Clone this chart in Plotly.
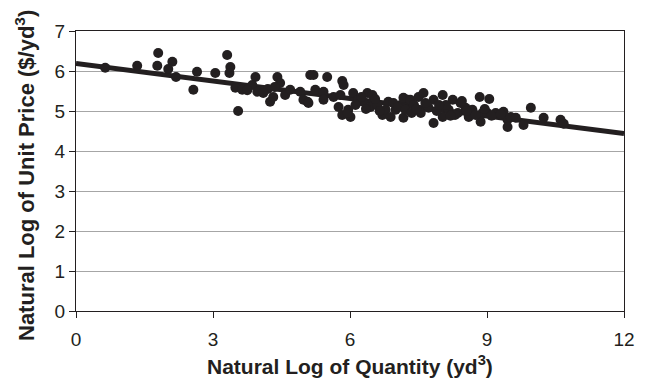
import plotly.graph_objects as go

ln_quantity = [
    0.64, 1.34, 1.80, 1.78, 2.11, 2.02, 2.19, 2.65, 2.57,
    3.31, 3.38, 3.36, 3.05, 3.55, 3.93, 3.49, 3.64, 3.86, 3.97, 4.41, 4.47, 4.25, 4.32, 4.58,
    4.69, 4.91, 5.07, 5.13, 4.20, 4.35, 4.10, 3.75,
    5.20, 5.50, 5.83, 5.86, 4.98, 5.09, 5.24, 5.42, 5.42, 5.64, 5.79, 5.75, 5.83, 6.01, 5.96,
    6.07, 6.18, 6.29, 6.38, 6.45, 6.49, 6.60, 6.71, 6.78, 6.84, 6.89, 7.00, 7.11, 7.17, 7.26,
    6.25, 6.55, 6.65, 6.95, 7.05, 6.35, 6.12, 5.95,
    7.17, 7.21, 7.32, 7.50, 7.61, 7.72, 7.83, 7.83, 8.03, 8.03, 8.16, 8.25, 8.36, 8.42, 8.53,
    8.60, 8.68, 8.84, 8.90, 8.86, 9.01, 9.19, 9.36, 9.45,
    7.40, 7.55, 7.65, 7.90, 8.10, 8.30, 8.45, 8.75, 8.95, 7.35, 7.95, 8.55, 9.05, 7.45, 8.20,
    9.52, 9.45, 9.63, 9.80, 9.96, 10.24, 10.61, 10.68, 9.10, 9.30,
]
ln_unit_price = [
    6.08, 6.13, 6.45, 6.13, 6.23, 6.05, 5.85, 5.98, 5.53,
    6.40, 6.10, 5.95, 5.95, 5.00, 5.85, 5.58, 5.53, 5.65, 5.48, 5.85, 5.70, 5.23, 5.35, 5.40,
    5.53, 5.48, 5.23, 5.90, 5.55, 5.60, 5.45, 5.52,
    5.90, 5.85, 5.75, 5.65, 5.28, 5.20, 5.53, 5.48, 5.28, 5.35, 5.40, 5.10, 4.90, 4.85, 5.03,
    5.45, 5.28, 5.23, 5.45, 5.10, 5.40, 5.15, 4.90, 5.03, 5.23, 4.85, 5.03, 5.15, 4.83, 5.28,
    5.35, 5.30, 5.00, 5.20, 5.10, 5.05, 5.15, 4.95,
    5.33, 5.03, 5.28, 5.35, 5.45, 5.08, 5.28, 4.70, 5.40, 4.85, 5.03, 5.28, 4.95, 5.20, 5.08,
    4.85, 5.03, 5.35, 4.95, 4.73, 4.95, 4.95, 4.98, 4.78,
    5.15, 4.95, 5.20, 5.00, 5.15, 4.90, 5.25, 4.90, 5.05, 4.95, 5.15, 5.00, 5.30, 5.05, 4.88,
    4.85, 4.60, 4.83, 4.65, 5.08, 4.83, 4.78, 4.68, 4.88, 4.92,
]

x_ticks = [0, 3, 6, 9, 12]
y_ticks = [0, 1, 2, 3, 4, 5, 6, 7]
x_title = "<b>Natural Log of Quantity (yd<sup>3</sup>)</b>"
y_title = "<b>Natural Log of Unit Price ($/yd<sup>3</sup>)</b>"

# Fitted regression line (intercept, slope)
fit_x = [0, 12]
fit_intercept = 6.19
fit_slope = -0.146
fit_y = [fit_intercept + fit_slope * v for v in fit_x]

ink = "#231f20"
family = "Liberation Sans, Arial, Helvetica, sans-serif"

fig = go.Figure()
fig.add_trace(go.Scatter(
    x=fit_x, y=fit_y, mode="lines",
    line=dict(color=ink, width=5), showlegend=False, hoverinfo="skip",
))
fig.add_trace(go.Scatter(
    x=ln_quantity, y=ln_unit_price, mode="markers",
    marker=dict(color=ink, size=10, line=dict(width=0)), showlegend=False,
))

tick_font = dict(family=family, size=19, color=ink)

# page body has an 8px margin, so the figure is sized to fit the 645x379 window
fig.update_layout(
    width=637, height=371,
    margin=dict(l=68, r=21, t=23, b=68, autoexpand=False),
    paper_bgcolor="white", plot_bgcolor="white",
    xaxis=dict(
        range=[0, 12], tickvals=x_ticks, ticktext=[str(v) for v in x_ticks],
        showgrid=False, zeroline=False, showline=True, linecolor=ink, linewidth=1,
        mirror=True, ticks="outside", ticklen=6, tickcolor=ink, tickfont=tick_font,
        ticklabelstandoff=5, automargin=False,
    ),
    yaxis=dict(
        range=[0, 7], tickvals=y_ticks,
        showgrid=True, gridcolor="#a6a6a6", gridwidth=1, zeroline=False,
        showline=True, linecolor=ink, linewidth=1, mirror=True,
        ticks="outside", ticklen=6, tickcolor=ink, tickfont=tick_font,
        automargin=False,
    ),
    annotations=[
        dict(text=x_title, xref="paper", yref="paper", x=0.5, y=0,
             xanchor="center", yanchor="middle", yshift=-54, showarrow=False,
             font=dict(family=family, size=21, color=ink)),
        dict(text=y_title, xref="paper", yref="paper", x=0, y=0.5,
             xanchor="center", yanchor="middle", xshift=-51, yshift=-5,
             textangle=-90, showarrow=False,
             font=dict(family=family, size=22, color=ink)),
    ],
)

fig.write_html("out.html")
